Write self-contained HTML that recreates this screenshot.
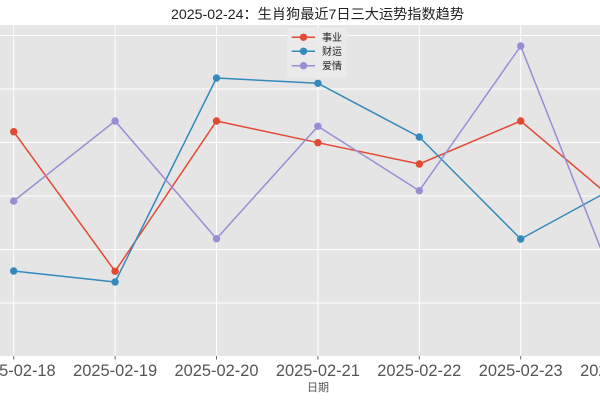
<!DOCTYPE html>
<html><head><meta charset="utf-8"><style>
html,body{margin:0;padding:0;background:#fff;}
svg{display:block;}
text{font-family:"Liberation Sans","Noto Sans CJK SC",sans-serif;}
</style></head><body>
<svg width="600" height="400" viewBox="0 0 600 400" xmlns="http://www.w3.org/2000/svg">
<rect x="0" y="0" width="600" height="400" fill="#fff"/>
<rect x="-17" y="25" width="670" height="331" fill="#E5E5E5"/>
<g stroke="#fff" stroke-width="1">
<line x1="-17" x2="653" y1="35.5" y2="35.5"/>
<line x1="-17" x2="653" y1="89" y2="89"/>
<line x1="-17" x2="653" y1="142.5" y2="142.5"/>
<line x1="-17" x2="653" y1="196" y2="196"/>
<line x1="-17" x2="653" y1="249.5" y2="249.5"/>
<line x1="-17" x2="653" y1="303" y2="303"/>
<line x1="13.7" x2="13.7" y1="25" y2="356"/>
<line x1="115.1" x2="115.1" y1="25" y2="356"/>
<line x1="216.5" x2="216.5" y1="25" y2="356"/>
<line x1="317.9" x2="317.9" y1="25" y2="356"/>
<line x1="419.3" x2="419.3" y1="25" y2="356"/>
<line x1="520.7" x2="520.7" y1="25" y2="356"/>
<line x1="622.1" x2="622.1" y1="25" y2="356"/>
</g>
<g stroke="#666" stroke-width="1">
<line x1="13.7" x2="13.7" y1="356" y2="359.5"/>
<line x1="115.1" x2="115.1" y1="356" y2="359.5"/>
<line x1="216.5" x2="216.5" y1="356" y2="359.5"/>
<line x1="317.9" x2="317.9" y1="356" y2="359.5"/>
<line x1="419.3" x2="419.3" y1="356" y2="359.5"/>
<line x1="520.7" x2="520.7" y1="356" y2="359.5"/>
<line x1="622.1" x2="622.1" y1="356" y2="359.5"/>
</g>
<!-- series -->
<g fill="none" stroke-width="1.5" stroke-linejoin="round">
<polyline stroke="#E24A33" points="13.7,131.7 115.1,271.3 216.5,121 317.9,142.7 419.3,164 520.7,121 622.1,206.7"/>
<polyline stroke="#348ABD" points="13.7,271 115.1,282 216.5,78 317.9,83.3 419.3,137 520.7,239 622.1,183.6"/>
<polyline stroke="#988ED5" points="13.7,201 115.1,121 216.5,238.7 317.9,126.3 419.3,190.7 520.7,46 622.1,302.6"/>
</g>
<g fill="#E24A33">
<circle cx="13.7" cy="131.7" r="3.7"/><circle cx="115.1" cy="271.3" r="3.7"/><circle cx="216.5" cy="121" r="3.7"/><circle cx="317.9" cy="142.7" r="3.7"/><circle cx="419.3" cy="164" r="3.7"/><circle cx="520.7" cy="121" r="3.7"/><circle cx="622.1" cy="206.7" r="3.7"/>
</g>
<g fill="#348ABD">
<circle cx="13.7" cy="271" r="3.7"/><circle cx="115.1" cy="282" r="3.7"/><circle cx="216.5" cy="78" r="3.7"/><circle cx="317.9" cy="83.3" r="3.7"/><circle cx="419.3" cy="137" r="3.7"/><circle cx="520.7" cy="239" r="3.7"/><circle cx="622.1" cy="183.6" r="3.7"/>
</g>
<g fill="#988ED5">
<circle cx="13.7" cy="201" r="3.7"/><circle cx="115.1" cy="121" r="3.7"/><circle cx="216.5" cy="238.7" r="3.7"/><circle cx="317.9" cy="126.3" r="3.7"/><circle cx="419.3" cy="190.7" r="3.7"/><circle cx="520.7" cy="46" r="3.7"/><circle cx="622.1" cy="302.6" r="3.7"/>
</g>
<!-- legend -->
<rect x="287" y="28" width="60" height="50" rx="2" fill="#EBEBEB" fill-opacity="0.85"/>
<g stroke-width="1.5">
<line x1="291.7" x2="315" y1="37.3" y2="37.3" stroke="#E24A33"/>
<line x1="291.7" x2="315" y1="51.3" y2="51.3" stroke="#348ABD"/>
<line x1="291.7" x2="315" y1="65.7" y2="65.7" stroke="#988ED5"/>
</g>
<circle cx="303.5" cy="37.3" r="3.7" fill="#E24A33"/>
<circle cx="303.5" cy="51.3" r="3.7" fill="#348ABD"/>
<circle cx="303.5" cy="65.7" r="3.7" fill="#988ED5"/>
<g font-size="10" fill="#222">
<text x="322" y="41">事业</text>
<text x="322" y="55">财运</text>
<text x="322" y="69.5">爱情</text>
</g>
<!-- title -->
<text x="317.5" y="19" font-size="14" fill="#222" text-anchor="middle" textLength="293" lengthAdjust="spacingAndGlyphs">2025-02-24：生肖狗最近7日三大运势指数趋势</text>
<!-- tick labels -->
<g font-size="17" fill="#555" text-anchor="middle">
<text x="13.7" y="376" textLength="84" lengthAdjust="spacingAndGlyphs">2025-02-18</text>
<text x="115.1" y="376" textLength="84" lengthAdjust="spacingAndGlyphs">2025-02-19</text>
<text x="216.5" y="376" textLength="84" lengthAdjust="spacingAndGlyphs">2025-02-20</text>
<text x="317.9" y="376" textLength="84" lengthAdjust="spacingAndGlyphs">2025-02-21</text>
<text x="419.3" y="376" textLength="84" lengthAdjust="spacingAndGlyphs">2025-02-22</text>
<text x="520.7" y="376" textLength="84" lengthAdjust="spacingAndGlyphs">2025-02-23</text>
<text x="622.1" y="376" textLength="84" lengthAdjust="spacingAndGlyphs">2025-02-24</text>
</g>
<text x="318" y="391" font-size="11" fill="#555" text-anchor="middle">日期</text>
</svg>
</body></html>
